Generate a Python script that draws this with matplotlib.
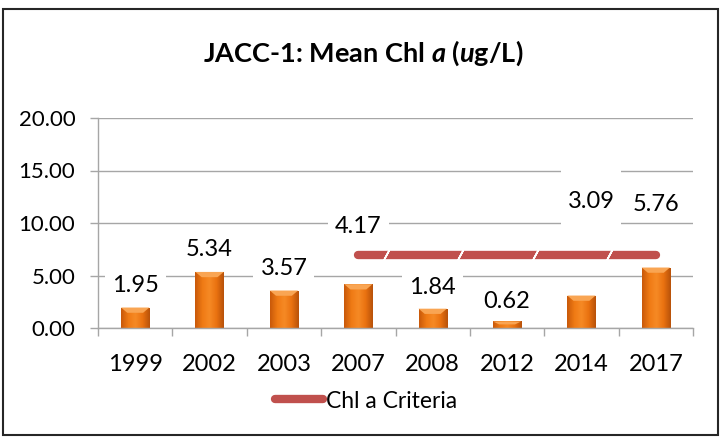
import numpy as np
import matplotlib
matplotlib.use("Agg")
import matplotlib.pyplot as plt
from matplotlib.patches import Rectangle, Polygon
from matplotlib.colors import LinearSegmentedColormap
from matplotlib.lines import Line2D

# ---------------- data ----------------
years = ["1999", "2002", "2003", "2007", "2008", "2012", "2014", "2017"]
mean_chl = [1.95, 5.34, 3.57, 4.17, 1.84, 0.62, 3.09, 5.76]
criteria = [np.nan, np.nan, np.nan, 7.0, 7.0, 7.0, 7.0, 7.0]
yticks = [0, 5, 10, 15, 20]
title_text = r"JACC-1: Mean Chl $\mathbfit{a}$ ($\mathbfit{u}$g/L)"
legend_label = "Chl a Criteria"

# label placement (style): offset above bar (data units) and x shift (categories)
label_dy = [2.05, 2.1, 2.05, 5.45, 2.05, 1.95, 9.0, 6.0]
label_dx = [0, 0, 0, 0, 0, 0, 0.13, 0]

plt.rcParams['font.family'] = ['Lato', 'DejaVu Sans']
plt.rcParams['mathtext.fontset'] = 'custom'
plt.rcParams['mathtext.bfit'] = 'Lato:italic:bold'
plt.rcParams['mathtext.it'] = 'Lato:italic'
plt.rcParams['mathtext.rm'] = 'Lato'

W, H = 721, 437
fig = plt.figure(figsize=(W / 100, H / 100), dpi=100)
fig.patch.set_facecolor('white')

ax_l, ax_r, ax_t, ax_b = 98, 693, 118, 328
ax = fig.add_axes([ax_l / W, 1 - ax_b / H, (ax_r - ax_l) / W, (ax_b - ax_t) / H])

x = np.arange(len(years))
ax.set_xlim(-0.5, len(years) - 0.5)
ax.set_ylim(0, 20)

grid_c = '#A6A6A6'
ax.set_yticks(yticks)
ax.set_yticklabels([f"{v:.2f}" for v in yticks])
ax.yaxis.grid(True, color=grid_c, lw=1.0, zorder=0)
ax.set_axisbelow(True)
for s in ['top', 'right']:
    ax.spines[s].set_visible(False)
for s in ['left', 'bottom']:
    ax.spines[s].set_color(grid_c)
    ax.spines[s].set_linewidth(1.0)

ax.set_xticks(np.arange(-0.5, len(years), 1.0))
ax.set_xticklabels([])
ax.set_xticks(x, minor=True)
ax.set_xticklabels(years, minor=True)
ax.tick_params(axis='x', which='major', length=5.8, width=1.0, color=grid_c, direction='out')
ax.tick_params(axis='x', which='minor', length=0, pad=19, labelsize=17)
ax.tick_params(axis='y', length=5.8, width=1.0, color=grid_c, direction='out', pad=10.5, labelsize=16)

# bars with gradient
bw = 0.38
cmap = LinearSegmentedColormap.from_list('org', ['#C9590A', '#EF7A14', '#F68A25', '#EA7210', '#B8520A'])
grad = np.linspace(0, 1, 64).reshape(1, -1)
bars = ax.bar(x, mean_chl, width=bw, color='#EC7612', edgecolor='none', zorder=2)
for b, v in zip(bars, mean_chl):
    x0 = b.get_x()
    x1 = x0 + b.get_width()
    im = ax.imshow(grad, extent=[x0, x1, 0, v], aspect='auto', cmap=cmap, zorder=2.1,
                   interpolation='bilinear')
    im.set_clip_path(b)
    d = min(0.5, v * 0.45)
    inset = bw * 0.22
    top = Polygon([[x0, v], [x1, v], [x1 - inset, v - d], [x0 + inset, v - d]],
                  closed=True, fc='#F9A553', ec='none', zorder=2.2)
    ax.add_patch(top)
ax.set_xlim(-0.5, len(years) - 0.5)
ax.set_ylim(0, 20)

# criteria line
crit_c = '#C0504D'
ax.plot(x, criteria, color=crit_c, lw=6.0, solid_capstyle='round', zorder=4)
for i in range(len(x) - 1):
    if not (np.isnan(criteria[i]) or np.isnan(criteria[i + 1])):
        ax.plot([x[i] + 0.5 - 0.13], [criteria[i]], marker=(2, 2, -28), ms=9,
                mec='white', mew=1.2, ls='none', zorder=4.5)

# data labels
for i, v in enumerate(mean_chl):
    ax.text(x[i] + label_dx[i], v + label_dy[i], f"{v:.2f}", ha='center', va='center',
            fontsize=17, color='black', zorder=5,
            bbox=dict(boxstyle='square,pad=0.3', fc='white', ec='none'))
# tall white label area behind the 2014 label
ax.add_patch(Rectangle((x[6] + label_dx[6] - 0.4, mean_chl[6] + label_dy[6] - 2.8), 0.8, 5.8,
                       fc='white', ec='none', zorder=1.5))

# title
fig.text(363 / W, 1 - 53 / H, title_text, ha='center', va='center', fontsize=19.5,
         fontweight='bold', color='black')

# legend
handle = Line2D([], [], color=crit_c, lw=6.0, solid_capstyle='round')
fig.legend([handle], [legend_label], loc='center', bbox_to_anchor=(366 / W, 1 - 401 / H),
           frameon=False, fontsize=16.5, handlelength=2.1, handletextpad=0.1)

# outer frame
fig.add_artist(Rectangle((3 / W, 1 - 435 / H), (718 - 3) / W, (435 - 9) / H,
                         transform=fig.transFigure, fill=False, ec='#262626', lw=1.5))

fig.savefig('out.png', dpi=100)
